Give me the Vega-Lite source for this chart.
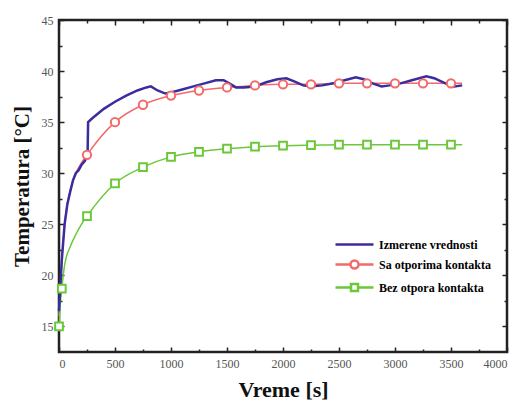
{
  "$schema": "https://vega.github.io/schema/vega-lite/v6.json",
  "width": 448,
  "height": 332,
  "autosize": {"type": "none"},
  "padding": {"left": 59, "top": 20, "right": 14, "bottom": 51},
  "background": "white",
  "config": {
    "view": {"stroke": "#222", "strokeWidth": 2.5},
    "axis": {"grid": false, "domain": false, "labelFont": "Liberation Serif", "labelFontSize": 12, "labelColor": "#555", "titleFont": "Liberation Serif", "titleFontWeight": "bold", "titleColor": "#111", "tickColor": "#222", "tickWidth": 1.5, "format": "d"},
    "legend": {"labelFont": "Liberation Serif", "labelFontWeight": "bold", "labelFontSize": 12, "labelColor": "black"}
  },
  "datasets": {
    "lines": [
      {"series": "Izmerene vrednosti", "t": 0, "T": 16.5},
      {"series": "Izmerene vrednosti", "t": 10, "T": 18.5},
      {"series": "Izmerene vrednosti", "t": 25, "T": 21.5},
      {"series": "Izmerene vrednosti", "t": 50, "T": 25.0},
      {"series": "Izmerene vrednosti", "t": 75, "T": 27.0},
      {"series": "Izmerene vrednosti", "t": 100, "T": 28.2},
      {"series": "Izmerene vrednosti", "t": 125, "T": 29.3},
      {"series": "Izmerene vrednosti", "t": 150, "T": 30.0},
      {"series": "Izmerene vrednosti", "t": 175, "T": 30.3},
      {"series": "Izmerene vrednosti", "t": 200, "T": 30.8},
      {"series": "Izmerene vrednosti", "t": 230, "T": 31.2},
      {"series": "Izmerene vrednosti", "t": 255, "T": 31.8},
      {"series": "Izmerene vrednosti", "t": 260, "T": 35.0},
      {"series": "Izmerene vrednosti", "t": 300, "T": 35.4},
      {"series": "Izmerene vrednosti", "t": 400, "T": 36.3},
      {"series": "Izmerene vrednosti", "t": 500, "T": 37.0},
      {"series": "Izmerene vrednosti", "t": 600, "T": 37.6},
      {"series": "Izmerene vrednosti", "t": 700, "T": 38.1},
      {"series": "Izmerene vrednosti", "t": 780, "T": 38.4},
      {"series": "Izmerene vrednosti", "t": 820, "T": 38.5},
      {"series": "Izmerene vrednosti", "t": 880, "T": 38.1},
      {"series": "Izmerene vrednosti", "t": 950, "T": 37.8},
      {"series": "Izmerene vrednosti", "t": 1000, "T": 37.9},
      {"series": "Izmerene vrednosti", "t": 1100, "T": 38.2},
      {"series": "Izmerene vrednosti", "t": 1200, "T": 38.5},
      {"series": "Izmerene vrednosti", "t": 1300, "T": 38.8},
      {"series": "Izmerene vrednosti", "t": 1400, "T": 39.1},
      {"series": "Izmerene vrednosti", "t": 1470, "T": 39.1},
      {"series": "Izmerene vrednosti", "t": 1520, "T": 38.8},
      {"series": "Izmerene vrednosti", "t": 1580, "T": 38.4},
      {"series": "Izmerene vrednosti", "t": 1650, "T": 38.4},
      {"series": "Izmerene vrednosti", "t": 1750, "T": 38.5},
      {"series": "Izmerene vrednosti", "t": 1850, "T": 38.9},
      {"series": "Izmerene vrednosti", "t": 1950, "T": 39.2},
      {"series": "Izmerene vrednosti", "t": 2030, "T": 39.3},
      {"series": "Izmerene vrednosti", "t": 2100, "T": 39.0},
      {"series": "Izmerene vrednosti", "t": 2180, "T": 38.6},
      {"series": "Izmerene vrednosti", "t": 2250, "T": 38.5},
      {"series": "Izmerene vrednosti", "t": 2350, "T": 38.6},
      {"series": "Izmerene vrednosti", "t": 2450, "T": 38.8},
      {"series": "Izmerene vrednosti", "t": 2550, "T": 39.1},
      {"series": "Izmerene vrednosti", "t": 2650, "T": 39.4},
      {"series": "Izmerene vrednosti", "t": 2720, "T": 39.2},
      {"series": "Izmerene vrednosti", "t": 2800, "T": 38.8},
      {"series": "Izmerene vrednosti", "t": 2880, "T": 38.5},
      {"series": "Izmerene vrednosti", "t": 2950, "T": 38.6},
      {"series": "Izmerene vrednosti", "t": 3050, "T": 38.8},
      {"series": "Izmerene vrednosti", "t": 3150, "T": 39.1},
      {"series": "Izmerene vrednosti", "t": 3280, "T": 39.5},
      {"series": "Izmerene vrednosti", "t": 3350, "T": 39.3},
      {"series": "Izmerene vrednosti", "t": 3450, "T": 38.8},
      {"series": "Izmerene vrednosti", "t": 3530, "T": 38.5},
      {"series": "Izmerene vrednosti", "t": 3600, "T": 38.6},
      {"series": "Sa otporima kontakta", "t": 0, "T": 16.0},
      {"series": "Sa otporima kontakta", "t": 10, "T": 18.5},
      {"series": "Sa otporima kontakta", "t": 25, "T": 21.5},
      {"series": "Sa otporima kontakta", "t": 50, "T": 25.0},
      {"series": "Sa otporima kontakta", "t": 100, "T": 28.3},
      {"series": "Sa otporima kontakta", "t": 150, "T": 30.0},
      {"series": "Sa otporima kontakta", "t": 200, "T": 31.0},
      {"series": "Sa otporima kontakta", "t": 250, "T": 31.8},
      {"series": "Sa otporima kontakta", "t": 500, "T": 35.0},
      {"series": "Sa otporima kontakta", "t": 750, "T": 36.7},
      {"series": "Sa otporima kontakta", "t": 1000, "T": 37.6},
      {"series": "Sa otporima kontakta", "t": 1250, "T": 38.1},
      {"series": "Sa otporima kontakta", "t": 1500, "T": 38.4},
      {"series": "Sa otporima kontakta", "t": 1750, "T": 38.6},
      {"series": "Sa otporima kontakta", "t": 2000, "T": 38.7},
      {"series": "Sa otporima kontakta", "t": 2250, "T": 38.7},
      {"series": "Sa otporima kontakta", "t": 2500, "T": 38.8},
      {"series": "Sa otporima kontakta", "t": 2750, "T": 38.8},
      {"series": "Sa otporima kontakta", "t": 3000, "T": 38.8},
      {"series": "Sa otporima kontakta", "t": 3250, "T": 38.8},
      {"series": "Sa otporima kontakta", "t": 3500, "T": 38.8},
      {"series": "Sa otporima kontakta", "t": 3600, "T": 38.8},
      {"series": "Bez otpora kontakta", "t": 0, "T": 15.0},
      {"series": "Bez otpora kontakta", "t": 10, "T": 17.0},
      {"series": "Bez otpora kontakta", "t": 25, "T": 18.7},
      {"series": "Bez otpora kontakta", "t": 50, "T": 21.0},
      {"series": "Bez otpora kontakta", "t": 100, "T": 22.8},
      {"series": "Bez otpora kontakta", "t": 150, "T": 24.0},
      {"series": "Bez otpora kontakta", "t": 200, "T": 25.0},
      {"series": "Bez otpora kontakta", "t": 250, "T": 25.8},
      {"series": "Bez otpora kontakta", "t": 500, "T": 29.0},
      {"series": "Bez otpora kontakta", "t": 750, "T": 30.6},
      {"series": "Bez otpora kontakta", "t": 1000, "T": 31.6},
      {"series": "Bez otpora kontakta", "t": 1250, "T": 32.1},
      {"series": "Bez otpora kontakta", "t": 1500, "T": 32.4},
      {"series": "Bez otpora kontakta", "t": 1750, "T": 32.6},
      {"series": "Bez otpora kontakta", "t": 2000, "T": 32.7},
      {"series": "Bez otpora kontakta", "t": 2250, "T": 32.75},
      {"series": "Bez otpora kontakta", "t": 2500, "T": 32.8},
      {"series": "Bez otpora kontakta", "t": 2750, "T": 32.8},
      {"series": "Bez otpora kontakta", "t": 3000, "T": 32.8},
      {"series": "Bez otpora kontakta", "t": 3250, "T": 32.8},
      {"series": "Bez otpora kontakta", "t": 3500, "T": 32.8},
      {"series": "Bez otpora kontakta", "t": 3600, "T": 32.8}
    ],
    "markers": [
      {"series": "Sa otporima kontakta", "t": 250, "T": 31.8},
      {"series": "Sa otporima kontakta", "t": 500, "T": 35.0},
      {"series": "Sa otporima kontakta", "t": 750, "T": 36.7},
      {"series": "Sa otporima kontakta", "t": 1000, "T": 37.6},
      {"series": "Sa otporima kontakta", "t": 1250, "T": 38.1},
      {"series": "Sa otporima kontakta", "t": 1500, "T": 38.4},
      {"series": "Sa otporima kontakta", "t": 1750, "T": 38.6},
      {"series": "Sa otporima kontakta", "t": 2000, "T": 38.7},
      {"series": "Sa otporima kontakta", "t": 2250, "T": 38.7},
      {"series": "Sa otporima kontakta", "t": 2500, "T": 38.8},
      {"series": "Sa otporima kontakta", "t": 2750, "T": 38.8},
      {"series": "Sa otporima kontakta", "t": 3000, "T": 38.8},
      {"series": "Sa otporima kontakta", "t": 3250, "T": 38.8},
      {"series": "Sa otporima kontakta", "t": 3500, "T": 38.8},
      {"series": "Bez otpora kontakta", "t": 0, "T": 15.0},
      {"series": "Bez otpora kontakta", "t": 25, "T": 18.7},
      {"series": "Bez otpora kontakta", "t": 250, "T": 25.8},
      {"series": "Bez otpora kontakta", "t": 500, "T": 29.0},
      {"series": "Bez otpora kontakta", "t": 750, "T": 30.6},
      {"series": "Bez otpora kontakta", "t": 1000, "T": 31.6},
      {"series": "Bez otpora kontakta", "t": 1250, "T": 32.1},
      {"series": "Bez otpora kontakta", "t": 1500, "T": 32.4},
      {"series": "Bez otpora kontakta", "t": 1750, "T": 32.6},
      {"series": "Bez otpora kontakta", "t": 2000, "T": 32.7},
      {"series": "Bez otpora kontakta", "t": 2250, "T": 32.75},
      {"series": "Bez otpora kontakta", "t": 2500, "T": 32.8},
      {"series": "Bez otpora kontakta", "t": 2750, "T": 32.8},
      {"series": "Bez otpora kontakta", "t": 3000, "T": 32.8},
      {"series": "Bez otpora kontakta", "t": 3250, "T": 32.8},
      {"series": "Bez otpora kontakta", "t": 3500, "T": 32.8}
    ]
  },
  "resolve": {"axis": {"x": "independent", "y": "independent"}},
  "layer": [
    {
      "data": {"name": "lines"},
      "mark": {"type": "point", "opacity": 0, "filled": false, "strokeWidth": 2},
      "encoding": {
        "x": {"field": "t", "type": "quantitative", "scale": {"domain": [0, 4000], "nice": false},
          "axis": {"orient": "top", "values": [0,250,500,750,1000,1250,1500,1750,2000,2250,2500,2750,3000,3250,3500,3750,4000], "labels": false, "title": null,
            "tickSize": {"condition": {"test": "datum.value % 500 === 0", "value": -5}, "value": -3}}},
        "y": {"field": "T", "type": "quantitative", "scale": {"domain": [12.5, 45], "nice": false, "zero": false},
          "axis": {"orient": "right", "values": [15,17.5,20,22.5,25,27.5,30,32.5,35,37.5,40,42.5,45], "labels": false, "title": null,
            "tickSize": {"condition": {"test": "datum.value % 5 === 0", "value": -5}, "value": -3}}},
        "color": {"field": "series", "type": "nominal",
          "scale": {"domain": ["Izmerene vrednosti", "Sa otporima kontakta", "Bez otpora kontakta"], "range": ["#3a2d9e", "#f26a6a", "#6cc83a"]},
          "legend": {"title": null, "orient": "none", "legendX": 284, "legendY": 213, "symbolSize": 400, "symbolOpacity": 1, "symbolStrokeWidth": 2.5, "symbolFillColor": "transparent", "rowPadding": 2, "labelOffset": 13, "padding": 0, "labelFont": "Liberation Serif", "labelFontWeight": "bold", "labelFontSize": 12}},
        "shape": {"field": "series", "type": "nominal",
          "scale": {"domain": ["Izmerene vrednosti", "Sa otporima kontakta", "Bez otpora kontakta"],
            "range": ["M-1.9,0L1.9,0", "M-1.9,0L-0.4,0M0.4,0L1.9,0M-0.4,0A0.4,0.4 0 1,0 0.4,0A0.4,0.4 0 1,0 -0.4,0", "M-1.9,0L-0.35,0M0.35,0L1.9,0M-0.35,-0.35L0.35,-0.35L0.35,0.35L-0.35,0.35Z"]},
          "legend": {"title": null, "orient": "none", "legendX": 284, "legendY": 213, "symbolSize": 400, "symbolOpacity": 1, "symbolStrokeWidth": 2.5, "symbolFillColor": "transparent", "rowPadding": 2, "labelOffset": 13, "padding": 0, "labelFont": "Liberation Serif", "labelFontWeight": "bold", "labelFontSize": 12}}
      }
    },
    {
      "data": {"name": "lines"},
      "transform": [{"filter": "datum.series !== 'Izmerene vrednosti'"}],
      "mark": {"type": "line", "strokeWidth": 1.5, "interpolate": "monotone"},
      "encoding": {
        "x": {"field": "t", "type": "quantitative", "axis": null},
        "y": {"field": "T", "type": "quantitative", "axis": null},
        "color": {"field": "series", "type": "nominal",
          "legend": {"title": null, "orient": "none", "legendX": 284, "legendY": 213, "symbolSize": 400, "symbolOpacity": 1, "symbolStrokeWidth": 2.5, "symbolFillColor": "transparent", "rowPadding": 2, "labelOffset": 13, "padding": 0, "labelFont": "Liberation Serif", "labelFontWeight": "bold", "labelFontSize": 12}}
      }
    },
    {
      "data": {"name": "lines"},
      "transform": [{"filter": "datum.series === 'Izmerene vrednosti'"}],
      "mark": {"type": "line", "strokeWidth": 2.5, "interpolate": "linear"},
      "encoding": {
        "x": {"field": "t", "type": "quantitative",
          "axis": {"orient": "bottom", "values": [0,250,500,750,1000,1250,1500,1750,2000,2250,2500,2750,3000,3250,3500,3750,4000],
            "labelExpr": "datum.value % 500 === 0 ? datum.label : ''", "labelFont": "Liberation Serif", "format": "d",
            "title": "Vreme [s]", "titleFontSize": 22, "titlePadding": 10, "labelPadding": 11,
            "tickSize": {"condition": {"test": "datum.value % 500 === 0", "value": -5}, "value": -3}}},
        "y": {"field": "T", "type": "quantitative",
          "axis": {"orient": "left", "values": [15,17.5,20,22.5,25,27.5,30,32.5,35,37.5,40,42.5,45],
            "labelExpr": "datum.value % 5 === 0 ? datum.label : ''", "labelFont": "Liberation Serif", "format": "d",
            "title": "Temperatura [°C]", "titleFontSize": 21, "titlePadding": 9, "labelPadding": 11,
            "tickSize": {"condition": {"test": "datum.value % 5 === 0", "value": -5}, "value": -3}}},
        "color": {"field": "series", "type": "nominal",
          "legend": {"title": null, "orient": "none", "legendX": 284, "legendY": 213, "symbolSize": 400, "symbolOpacity": 1, "symbolStrokeWidth": 2.5, "symbolFillColor": "transparent", "rowPadding": 2, "labelOffset": 13, "padding": 0, "labelFont": "Liberation Serif", "labelFontWeight": "bold", "labelFontSize": 12}}
      }
    },
    {
      "data": {"name": "markers"},
      "transform": [{"filter": "datum.series === 'Sa otporima kontakta'"}],
      "mark": {"type": "point", "shape": "circle", "size": 70, "filled": false, "fill": "white", "fillOpacity": 1, "strokeWidth": 2, "opacity": 1},
      "encoding": {
        "x": {"field": "t", "type": "quantitative", "axis": null},
        "y": {"field": "T", "type": "quantitative", "axis": null},
        "color": {"field": "series", "type": "nominal",
          "legend": {"title": null, "orient": "none", "legendX": 284, "legendY": 213, "symbolSize": 400, "symbolOpacity": 1, "symbolStrokeWidth": 2.5, "symbolFillColor": "transparent", "rowPadding": 2, "labelOffset": 13, "padding": 0, "labelFont": "Liberation Serif", "labelFontWeight": "bold", "labelFontSize": 12}}
      }
    },
    {
      "data": {"name": "markers"},
      "transform": [{"filter": "datum.series === 'Bez otpora kontakta'"}],
      "mark": {"type": "point", "shape": "square", "size": 60, "filled": false, "fill": "white", "fillOpacity": 1, "strokeWidth": 2, "opacity": 1},
      "encoding": {
        "x": {"field": "t", "type": "quantitative", "axis": null},
        "y": {"field": "T", "type": "quantitative", "axis": null},
        "color": {"field": "series", "type": "nominal",
          "legend": {"title": null, "orient": "none", "legendX": 284, "legendY": 213, "symbolSize": 400, "symbolOpacity": 1, "symbolStrokeWidth": 2.5, "symbolFillColor": "transparent", "rowPadding": 2, "labelOffset": 13, "padding": 0, "labelFont": "Liberation Serif", "labelFontWeight": "bold", "labelFontSize": 12}}
      }
    }
  ]
}
